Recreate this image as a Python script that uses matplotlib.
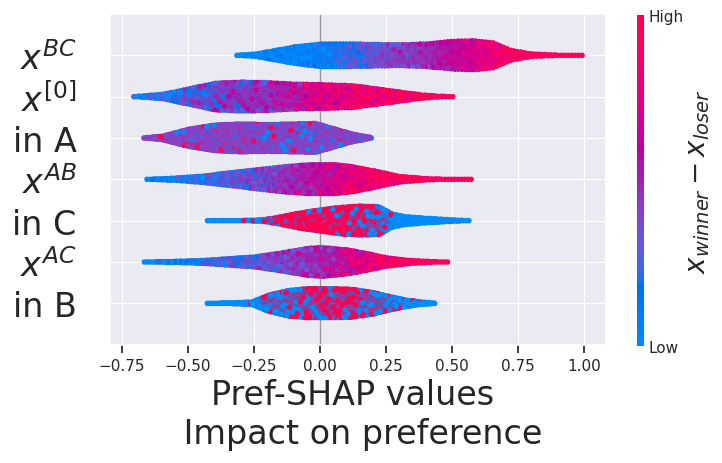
import numpy as np
import matplotlib
matplotlib.use("Agg")
import matplotlib.pyplot as plt
import seaborn as sns
from matplotlib.colors import LinearSegmentedColormap, Normalize
from matplotlib.cm import ScalarMappable

# feature rows, bottom to top
features = ["in B", r"$x^{AC}$", "in C", r"$x^{AB}$", "in A", r"$x^{[0]}$", r"$x^{BC}$"]
xticks = [-0.75, -0.5, -0.25, 0.0, 0.25, 0.5, 0.75, 1.0]

# swarm outline: shap value knots and swarm height (px)
bc_x = [-0.32, -0.25, -0.2, -0.1, 0.0, 0.1, 0.2, 0.3, 0.4, 0.5, 0.58, 0.65, 0.72, 0.8, 0.9, 1.0]
bc_h = [5.6, 8, 12.7, 22, 28, 28, 27, 26, 28, 33, 34, 30, 15, 8, 6, 5.6]
x0_x = [-0.71, -0.6, -0.49, -0.4, -0.3, -0.2, -0.1, 0.0, 0.12, 0.25, 0.38, 0.45, 0.51]
x0_h = [5.6, 10, 22, 32, 34, 33, 30, 29, 27, 18, 9, 6.5, 5.6]
ina_x = [-0.67, -0.6, -0.5, -0.4, -0.3, -0.2, -0.1, -0.02, 0.05, 0.12, 0.2]
ina_h = [5.6, 9, 22, 30, 32, 31, 32, 33, 23, 13, 5.6]
ab_x = [-0.66, -0.55, -0.45, -0.35, -0.25, -0.15, -0.05, 0.05, 0.12, 0.2, 0.3, 0.4, 0.48, 0.58]
ab_h = [5.6, 8, 12, 18, 24, 30, 34, 34, 30, 22, 11, 7, 5.8, 5.6]
inc_x = [-0.43, -0.3, -0.22, -0.15, -0.08, 0.0, 0.08, 0.15, 0.22, 0.27, 0.32, 0.4, 0.5, 0.57]
inc_h = [5.6, 6, 7, 13, 20, 26, 31, 33, 32, 18, 13, 10, 7, 5.6]
ac_x = [-0.67, -0.55, -0.45, -0.34, -0.25, -0.15, -0.05, 0.0, 0.1, 0.18, 0.25, 0.34, 0.42, 0.49]
ac_h = [5.6, 7, 8.5, 12.7, 16, 24, 33, 35, 30, 22, 14, 8.7, 6.5, 5.6]
inb_x = [-0.43, -0.33, -0.26, -0.2, -0.12, -0.05, 0.05, 0.12, 0.2, 0.26, 0.32, 0.38, 0.44]
inb_h = [5.6, 6.5, 8, 20, 29, 32, 32, 31, 25, 18, 12, 8, 5.6]

# continuous features: mean feature value (0 low .. 1 high) along the swarm
bc_cx = [-0.32, 0.0, 0.1, 0.2, 0.3, 0.4, 0.5, 0.6, 0.7, 0.8, 1.0]
bc_cv = [0.02, 0.08, 0.2, 0.33, 0.4, 0.45, 0.6, 0.75, 0.9, 0.97, 1.0]
x0_cx = [-0.71, -0.6, -0.45, -0.3, -0.2, -0.1, 0.0, 0.15, 0.3, 0.51]
x0_cv = [0.05, 0.15, 0.32, 0.4, 0.45, 0.6, 0.78, 0.88, 0.95, 1.0]
ab_cx = [-0.66, -0.5, -0.35, -0.2, -0.1, 0.0, 0.1, 0.2, 0.35, 0.58]
ab_cv = [0.02, 0.1, 0.25, 0.38, 0.5, 0.65, 0.8, 0.9, 0.97, 1.0]
ac_cx = [-0.67, -0.5, -0.35, -0.2, -0.05, 0.05, 0.15, 0.25, 0.35, 0.49]
ac_cv = [0.02, 0.1, 0.25, 0.38, 0.48, 0.58, 0.72, 0.85, 0.95, 1.0]

# categorical features: share of low (blue) and high (red) points, rest mid
mid_value = 0.41
ina_px = [-0.67, -0.3, -0.05, 0.2]
ina_low = [0.08, 0.1, 0.15, 0.12]
ina_high = [0.1, 0.1, 0.08, 0.05]
inc_px = [-0.43, -0.22, -0.15, 0.0, 0.15, 0.22, 0.27, 0.35, 0.57]
inc_high = [0.0, 0.1, 0.7, 0.8, 0.75, 0.6, 0.1, 0.0, 0.0]
inb_px = [-0.43, -0.25, -0.18, -0.05, 0.1, 0.25, 0.32, 0.44]
inb_high = [0.0, 0.05, 0.4, 0.55, 0.55, 0.45, 0.1, 0.0]


def lch2rgb(l, c, h):
    a, b = c * np.cos(h), c * np.sin(h)
    fy = (l + 16) / 116
    f = np.array([fy + a / 500, fy, fy - b / 200])
    xyz = np.where(f > 0.2068966, f ** 3, (f - 16 / 116) / 7.787) * np.array([0.95047, 1.0, 1.08883])
    m = np.array([[3.2406, -1.5372, -0.4986], [-0.9689, 1.8758, 0.0415], [0.0557, -0.2040, 1.0570]])
    rgb = m @ xyz
    rgb = np.where(rgb > 0.0031308, 1.055 * np.abs(rgb) ** (1 / 2.4) - 0.055, 12.92 * rgb)
    return np.clip(rgb, 0, 1)


# shap style red/blue map
nsteps = 100
l_vals = list(np.linspace(54, 40, nsteps // 2)) + list(np.linspace(40, 54, nsteps // 2))
c_vals = np.linspace(70, 90, nsteps)
h_vals = np.linspace(4.6588, 0.35470565 + 2 * np.pi, nsteps)
cols = [lch2rgb(l, c, h) for l, c, h in zip(l_vals, c_vals, h_vals)]
red_blue = LinearSegmentedColormap.from_list("red_blue", cols)


def swarm(xk, hk, nbins=100, maxc=80):
    edges = np.linspace(xk[0], xk[-1], nbins + 1)
    centers = (edges[:-1] + edges[1:]) / 2
    w = (np.interp(centers, xk, hk) - 5.6) / (max(hk) - 5.6)
    counts = np.maximum(1, np.round(w * maxc)).astype(int)
    bw = edges[1] - edges[0]
    xs, ys = [], []
    for e, c in zip(edges[:-1], counts):
        layer = np.arange(c)
        xs.append(e + (layer + 0.5) / c * bw)
        ys.append(np.ceil(layer / 2) * ((layer % 2) * 2 - 1))
    xs = np.concatenate(xs)
    ys = np.concatenate(ys)
    ys *= 0.9 * (0.4 / np.max(ys + 1))
    return xs, ys


def mixer(n, seed):
    return np.mod(np.arange(n) * 0.6180339887 + seed, 1.0)


rows = [
    (inb_x, inb_h, "cat", (inb_px, None, inb_high)),
    (ac_x, ac_h, "num", (ac_cx, ac_cv, 0.2)),
    (inc_x, inc_h, "cat", (inc_px, None, inc_high)),
    (ab_x, ab_h, "num", (ab_cx, ab_cv, 0.22)),
    (ina_x, ina_h, "cat", (ina_px, ina_low, ina_high)),
    (x0_x, x0_h, "num", (x0_cx, x0_cv, 0.25)),
    (bc_x, bc_h, "num", (bc_cx, bc_cv, 0.15)),
]

sns.set_style("darkgrid")
plt.rcParams['font.family'] = ['DejaVu Sans']
fig = plt.figure(figsize=(7.22, 4.64), dpi=100)
ax = fig.add_axes([0.1524, 0.255, 0.6865, 0.7127])

ax.axvline(0, color="#999999", lw=1, zorder=1)

for pos, (xk, hk, kind, cinfo) in enumerate(rows):
    xs, ys = swarm(xk, hk)
    n = len(xs)
    u = mixer(n, 0.17 * pos)
    if kind == "num":
        cx, cv, spread = cinfo
        vals = np.clip(np.interp(xs, cx, cv) + spread * (2 * u - 1), 0, 1)
    else:
        px, plow, phigh = cinfo
        hi = np.interp(xs, px, phigh)
        lo = 1 - hi if plow is None else np.interp(xs, px, plow)
        vals = np.where(u < lo, 0.0, np.where(u < lo + hi, 1.0, mid_value))
    order = np.argsort(np.mod(np.arange(n) * 0.7548776662 + 0.3, 1.0), kind="stable")
    ax.scatter(xs[order], pos + ys[order], c=vals[order], cmap=red_blue, vmin=0, vmax=1,
               s=16, linewidths=0, zorder=3, rasterized=True)

ax.set_xlim(-0.794, 1.083)
ax.set_ylim(-1, len(features))
ax.set_xticks(xticks)
ax.set_yticks(range(len(features)))
ax.set_yticklabels(features, fontsize=24)
ax.tick_params(axis="y", length=0, pad=24)
ax.tick_params(axis="x", bottom=True, length=6, width=1.25, color=".15", labelsize=11)
for sp in ax.spines.values():
    sp.set_linewidth(1.25)
ax.set_xlabel("Pref-SHAP values \n Impact on preference", fontsize=24)

cax = fig.add_axes([0.8819, 0.2532, 0.0101, 0.7123])
cb = fig.colorbar(ScalarMappable(norm=Normalize(0, 1), cmap=red_blue), cax=cax, ticks=[0, 1])
cb.set_ticklabels(["Low", "High"])
cb.ax.tick_params(labelsize=11, length=0)
cb.outline.set_visible(False)
cax.grid(False)
cb.set_label(r"$x_{winner} - x_{loser}$", size=20, labelpad=0)

fig.savefig("out.png", dpi=100)
